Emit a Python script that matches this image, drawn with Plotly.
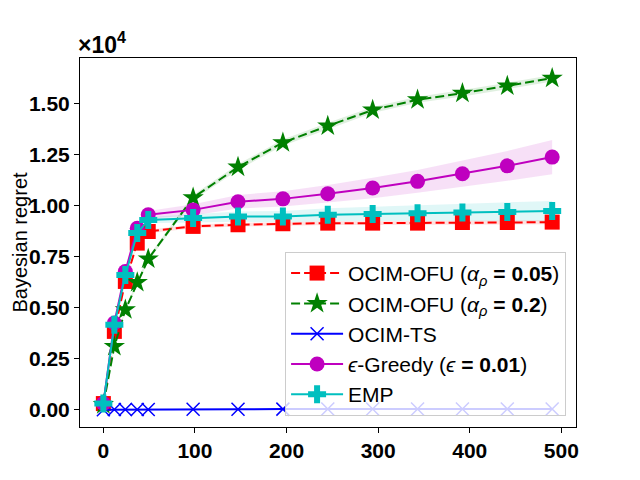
import plotly.graph_objects as go

# horizon values (x) shared by every curve
t = [0, 12, 24, 37, 49, 98, 147, 196, 245, 294, 343, 392, 441, 490]

# mean regret and spread of each algorithm
ofu_005 = [300, 3840, 6290, 8170, 8740, 8990, 9070, 9120, 9150, 9150, 9150, 9180, 9180, 9200]
ofu_005_sd = [20, 60, 80, 90, 90, 90, 90, 90, 90, 90, 90, 90, 95, 100]

ofu_02 = [250, 3100, 4900, 6240, 7390, 10400, 11900, 13100, 13920, 14700, 15200, 15520, 15880, 16260]
ofu_02_sd = [20, 60, 80, 100, 110, 130, 140, 150, 150, 150, 150, 155, 160, 160]

ts = [0, 5, 8, 10, 12, 20, 25, 28, 30, 32, 34, 35, 36, 37]

greedy = [300, 4250, 6780, 8900, 9560, 9800, 10200, 10340, 10590, 10870, 11200, 11570, 11960, 12390]
greedy_sd = [20, 80, 120, 150, 180, 280, 330, 380, 430, 500, 560, 640, 730, 840]

emp = [300, 4170, 6600, 8660, 9300, 9400, 9470, 9470, 9560, 9600, 9640, 9670, 9700, 9740]
emp_sd = [20, 70, 100, 130, 150, 200, 250, 280, 320, 350, 380, 420, 460, 500]

y_ticks = [0, 2500, 5000, 7500, 10000, 12500, 15000]
y_tick_text = ["0.00", "0.25", "0.50", "0.75", "1.00", "1.25", "1.50"]
x_ticks = [0, 100, 200, 300, 400, 500]

FONT = "Liberation Sans, Arial, sans-serif"

fig = go.Figure()


def band(mean, sd, fill):
    upper = [m + s for m, s in zip(mean, sd)]
    lower = [m - s for m, s in zip(mean, sd)]
    fig.add_trace(go.Scatter(x=t, y=upper, mode="lines", line=dict(width=0),
                             showlegend=False, hoverinfo="skip"))
    fig.add_trace(go.Scatter(x=t, y=lower, mode="lines", line=dict(width=0),
                             fill="tonexty", fillcolor=fill,
                             showlegend=False, hoverinfo="skip"))


band(ofu_005, ofu_005_sd, "rgba(255,0,0,0.12)")
band(ofu_02, ofu_02_sd, "rgba(0,128,0,0.12)")
band(greedy, greedy_sd, "rgba(191,0,191,0.12)")
band(emp, emp_sd, "rgba(0,191,191,0.12)")

fig.add_trace(go.Scatter(
    x=t, y=ofu_005, mode="lines+markers",
    name="OCIM-OFU (<i>α</i><sub><i>ρ</i></sub> <b>= 0.05</b>)",
    line=dict(color="#ff0000", width=2, dash="9px,4px"),
    marker=dict(symbol="square", size=15, color="#ff0000")))
fig.add_trace(go.Scatter(
    x=t, y=ofu_02, mode="lines+markers",
    name="OCIM-OFU (<i>α</i><sub><i>ρ</i></sub> <b>= 0.2</b>)",
    line=dict(color="#008000", width=2, dash="9px,4px"),
    marker=dict(symbol="star", size=16, color="#008000")))
fig.add_trace(go.Scatter(
    x=t, y=ts, mode="lines+markers", name="OCIM-TS",
    line=dict(color="#0000ff", width=2),
    marker=dict(symbol="x-thin", size=13, color="#0000ff",
                line=dict(color="#0000ff", width=1.5))))
fig.add_trace(go.Scatter(
    x=t, y=greedy, mode="lines+markers",
    name="<i>ϵ</i>-Greedy (<i>ϵ</i> <b>= 0.01</b>)",
    line=dict(color="#bf00bf", width=2),
    marker=dict(symbol="circle", size=15, color="#bf00bf")))
fig.add_trace(go.Scatter(
    x=t, y=emp, mode="lines+markers", name="EMP",
    line=dict(color="#00bfbf", width=2),
    marker=dict(symbol="cross", size=15, color="#00bfbf")))

axis_common = dict(showline=True, mirror=True, linecolor="black", linewidth=1,
                   ticks="outside", ticklen=5, tickcolor="black", showgrid=False,
                   zeroline=False, automargin=False,
                   tickfont=dict(family=FONT, size=21, color="black", weight="bold"))

fig.update_xaxes(range=[-25.5, 516], tickvals=x_ticks, **axis_common)
fig.update_yaxes(range=[-850, 17250], tickvals=y_ticks, ticktext=y_tick_text,
                 **axis_common)

# y title placed by hand, just left of the tick labels
fig.add_annotation(xref="paper", yref="paper", x=0, y=0.5, xanchor="center",
                   yanchor="middle", showarrow=False, xshift=-61, textangle=-90,
                   text="Bayesian regret",
                   font=dict(family=FONT, size=20, color="black"))

fig.add_annotation(xref="paper", yref="paper", x=0, y=1, xanchor="left",
                   yanchor="bottom", showarrow=False, xshift=-4, yshift=-2,
                   text="×10<sup>4</sup>",
                   font=dict(family=FONT, size=23, color="black", weight="bold"))

# the page adds an 8px body margin, so margins are shifted to keep the plot box in place
fig.update_layout(
    width=640, height=480,
    margin=dict(l=72, r=72, t=50, b=61),
    plot_bgcolor="white", paper_bgcolor="white",
    font=dict(family=FONT, color="black"),
    legend=dict(x=0.98, y=0.03, xanchor="right", yanchor="bottom",
                traceorder="normal",
                bgcolor="rgba(255,255,255,0.8)", bordercolor="#cccccc",
                borderwidth=1, itemwidth=52,
                font=dict(family=FONT, size=21, color="black")),
)

fig.write_html("out.html")
